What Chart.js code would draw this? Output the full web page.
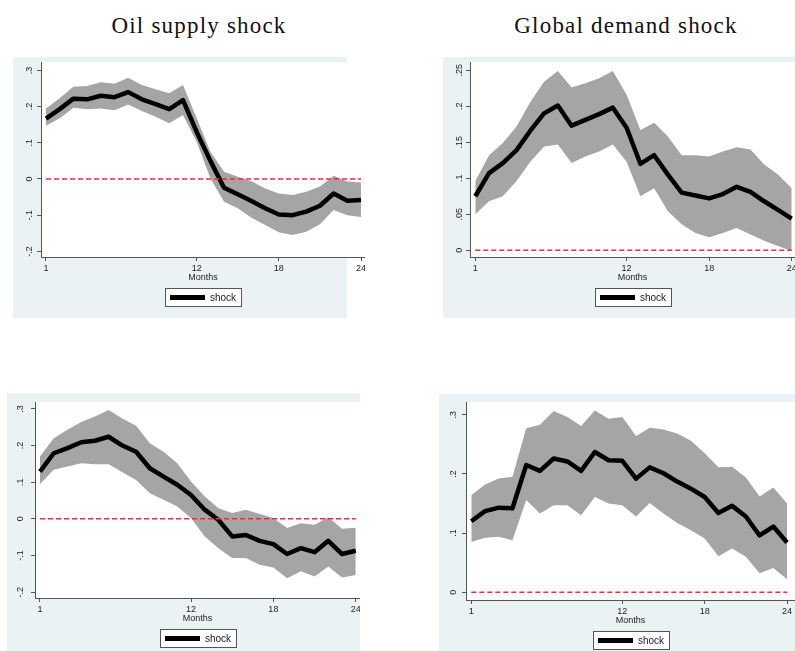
<!DOCTYPE html>
<html>
<head>
<meta charset="utf-8">
<title>Impulse responses</title>
<script src="https://cdn.jsdelivr.net/npm/chart.js"></script>
<style>
  html, body { margin: 0; padding: 0; background: #fff; }
  body { position: relative; width: 795px; height: 651px; overflow: hidden; }
  .title { position: absolute; top: 14px; line-height: 23px; font-family: 'Liberation Serif', serif; font-size: 23px; letter-spacing: 1.2px; color: #111; transform: translateX(-50%); white-space: nowrap; }
  canvas { position: absolute; }
</style>
</head>
<body>
<div class="title" style="left:199px">Oil supply shock</div>
<div class="title" style="left:626px">Global demand shock</div>
<canvas id="oilTop" width="352" height="261" style="left:13px;top:57px"></canvas>
<canvas id="demandTop" width="352" height="261" style="left:443px;top:57px"></canvas>
<canvas id="oilBottom" width="353" height="258" style="left:7px;top:393px"></canvas>
<canvas id="demandBottom" width="356" height="257" style="left:439px;top:394px"></canvas>
<script>
// horizon (months) and axis ticks
const months = [1, 2, 3, 4, 5, 6, 7, 8, 9, 10, 11, 12, 13, 14, 15, 16, 17, 18, 19, 20, 21, 22, 23, 24];
const monthTicks = [1, 12, 18, 24];
const seriesLabel = 'shock';

// top-left: oil supply shock
const oilTopIrf   = [0.167, 0.193, 0.222, 0.220, 0.230, 0.226, 0.240, 0.220, 0.207, 0.193, 0.218, 0.130, 0.050, -0.024, -0.042, -0.061, -0.081, -0.098, -0.100, -0.090, -0.074, -0.040, -0.060, -0.058];
const oilTopUpper = [0.195, 0.223, 0.255, 0.257, 0.267, 0.263, 0.280, 0.260, 0.248, 0.237, 0.260, 0.168, 0.075, 0.020, 0.006, -0.006, -0.026, -0.040, -0.044, -0.035, -0.021, 0.009, -0.007, -0.010];
const oilTopLower = [0.147, 0.168, 0.197, 0.193, 0.195, 0.190, 0.206, 0.188, 0.172, 0.154, 0.177, 0.103, 0.002, -0.063, -0.081, -0.107, -0.127, -0.147, -0.155, -0.146, -0.125, -0.086, -0.100, -0.105];
const oilTopTicks = [-0.2, -0.1, 0, 0.1, 0.2, 0.3];

// top-right: global demand shock
const demandTopIrf   = [0.075, 0.107, 0.121, 0.139, 0.166, 0.190, 0.201, 0.173, 0.181, 0.189, 0.198, 0.170, 0.120, 0.132, 0.105, 0.080, 0.076, 0.072, 0.078, 0.088, 0.081, 0.068, 0.056, 0.044];
const demandTopUpper = [0.096, 0.132, 0.149, 0.172, 0.206, 0.234, 0.249, 0.226, 0.232, 0.239, 0.249, 0.216, 0.167, 0.177, 0.158, 0.132, 0.132, 0.130, 0.137, 0.143, 0.140, 0.119, 0.105, 0.086];
const demandTopLower = [0.050, 0.068, 0.075, 0.096, 0.123, 0.144, 0.147, 0.121, 0.130, 0.137, 0.147, 0.123, 0.075, 0.086, 0.054, 0.036, 0.024, 0.018, 0.024, 0.031, 0.022, 0.013, 0.006, -0.001];
const demandTopTicks = [0, 0.05, 0.1, 0.15, 0.2, 0.25];

// bottom-left
const oilBottomIrf   = [0.129, 0.179, 0.193, 0.209, 0.213, 0.224, 0.200, 0.183, 0.138, 0.115, 0.093, 0.065, 0.025, -0.003, -0.048, -0.044, -0.060, -0.069, -0.096, -0.080, -0.091, -0.060, -0.096, -0.087];
const oilBottomUpper = [0.170, 0.220, 0.243, 0.264, 0.279, 0.297, 0.274, 0.254, 0.206, 0.183, 0.152, 0.102, 0.061, 0.029, 0.016, 0.025, 0.013, 0.002, -0.025, -0.012, -0.016, 0.004, -0.027, -0.024];
const oilBottomLower = [0.095, 0.134, 0.143, 0.152, 0.149, 0.149, 0.127, 0.106, 0.070, 0.052, 0.034, 0.002, -0.048, -0.080, -0.107, -0.107, -0.125, -0.133, -0.162, -0.143, -0.157, -0.130, -0.160, -0.153];
const oilBottomTicks = [-0.2, -0.1, 0, 0.1, 0.2, 0.3];

// bottom-right
const demandBottomIrf   = [0.120, 0.137, 0.143, 0.142, 0.215, 0.205, 0.226, 0.221, 0.205, 0.237, 0.223, 0.222, 0.192, 0.211, 0.201, 0.187, 0.175, 0.161, 0.134, 0.146, 0.128, 0.096, 0.111, 0.084];
const demandBottomUpper = [0.164, 0.182, 0.192, 0.195, 0.277, 0.283, 0.306, 0.296, 0.281, 0.307, 0.293, 0.296, 0.264, 0.278, 0.275, 0.268, 0.256, 0.235, 0.211, 0.212, 0.194, 0.162, 0.177, 0.150];
const demandBottomLower = [0.085, 0.092, 0.094, 0.088, 0.156, 0.133, 0.147, 0.147, 0.130, 0.161, 0.150, 0.147, 0.128, 0.151, 0.133, 0.117, 0.105, 0.091, 0.061, 0.074, 0.060, 0.032, 0.041, 0.022];
const demandBottomTicks = [0, 0.1, 0.2, 0.3];

const panelBg = '#eaf2f3';
const bandGrey = '#a5a5a5';
const axisColor = '#555';
const tickFont = { family: 'Liberation Sans', size: 9 };

// Stata style numbers: .3  -.1  0  .05
const stataNumber = v => Math.abs(v) < 1e-9 ? '0' : String(+v.toFixed(2)).replace('0.', '.');
const points = vals => vals.map((v, i) => ({ x: months[i], y: v }));

const panelPlugin = {
  id: 'panel',
  beforeDraw(chart, args, opts) {
    const { ctx, chartArea: a } = chart;
    ctx.save();
    ctx.fillStyle = panelBg;
    ctx.fillRect(0, 0, opts.bgWidth || chart.width, chart.height);
    ctx.fillStyle = '#fff';
    ctx.fillRect(a.left, a.top, a.right - a.left, a.bottom - a.top);
    ctx.restore();
  },
  afterDatasetsDraw(chart) {
    // dashed zero reference line
    const { ctx, scales: { x, y } } = chart;
    const y0 = y.getPixelForValue(0);
    ctx.save();
    ctx.strokeStyle = '#f2284b';
    ctx.lineWidth = 1.5;
    ctx.setLineDash([5, 3]);
    ctx.beginPath();
    ctx.moveTo(x.getPixelForValue(months[0]), y0);
    ctx.lineTo(x.getPixelForValue(months[months.length - 1]), y0);
    ctx.stroke();
    ctx.restore();
  },
  afterDraw(chart) {
    // boxed legend under the axis title
    const { ctx, chartArea: a } = chart;
    const cx = Math.round((a.left + a.right) / 2);
    const top = Math.round(a.bottom) + 31;
    ctx.save();
    ctx.fillStyle = '#fff';
    ctx.fillRect(cx - 38, top, 77, 19);
    ctx.strokeStyle = axisColor;
    ctx.lineWidth = 1;
    ctx.strokeRect(cx - 37.5, top + 0.5, 76, 18);
    ctx.fillStyle = '#000';
    ctx.fillRect(cx - 33, top + 7, 35, 5);
    ctx.font = '10px "Liberation Sans"';
    ctx.textBaseline = 'middle';
    ctx.fillStyle = '#222';
    ctx.fillText(chart.data.datasets[0].label, cx + 7, top + 10);
    ctx.restore();
  }
};

function drawPanel(id, p) {
  new Chart(document.getElementById(id), {
    type: 'line',
    data: {
      datasets: [
        { label: seriesLabel, data: points(p.irf), borderColor: '#000', borderWidth: 4.5, pointRadius: 0, tension: 0, borderJoinStyle: 'round', fill: false },
        { label: 'upper', data: points(p.upper), borderColor: 'rgba(0,0,0,0)', borderWidth: 0, pointRadius: 0, fill: false },
        { label: 'lower', data: points(p.lower), borderColor: 'rgba(0,0,0,0)', borderWidth: 0, pointRadius: 0, fill: '-1', backgroundColor: bandGrey }
      ]
    },
    options: {
      responsive: false,
      animation: false,
      devicePixelRatio: 1,
      layout: { padding: { top: p.padTop, bottom: p.padBottom, left: 0, right: 0 } },
      plugins: { legend: { display: false }, tooltip: { enabled: false }, panel: { bgWidth: p.bgWidth } },
      scales: {
        x: {
          type: 'linear', min: p.xMin, max: p.xMax,
          afterBuildTicks: s => { s.ticks = monthTicks.map(v => ({ value: v })); },
          afterFit: s => { s.height = 26; s.paddingLeft = 0; s.paddingRight = 0; },
          grid: { drawOnChartArea: false, drawTicks: true, tickLength: 4, color: axisColor },
          border: { color: axisColor, width: 1 },
          ticks: { font: tickFont, color: '#222', padding: 2, maxRotation: 0, autoSkip: false, callback: v => String(v) },
          title: { display: true, text: 'Months', font: tickFont, color: '#222', padding: 0 }
        },
        y: {
          min: p.yMin, max: p.yMax,
          afterBuildTicks: s => { s.ticks = p.ticks.map(v => ({ value: v })); },
          afterFit: s => { s.width = p.yAxisWidth; s.paddingTop = 0; s.paddingBottom = 0; },
          grid: { drawOnChartArea: false, drawTicks: true, tickLength: 4, color: axisColor },
          border: { color: axisColor, width: 1 },
          ticks: { font: tickFont, color: '#222', padding: p.yLabelPad, minRotation: 90, maxRotation: 90, crossAlign: 'center', autoSkip: false, callback: stataNumber }
        }
      }
    },
    plugins: [panelPlugin]
  });
}

drawPanel('oilTop', { irf: oilTopIrf, upper: oilTopUpper, lower: oilTopLower, ticks: oilTopTicks,
  xMin: 0.635, xMax: 24.29, yMin: -0.2155, yMax: 0.3232, padTop: 5, padBottom: 35, yAxisWidth: 28, yLabelPad: 2, bgWidth: 334 });
drawPanel('demandTop', { irf: demandTopIrf, upper: demandTopUpper, lower: demandTopLower, ticks: demandTopTicks,
  xMin: 0.615, xMax: 24.24, yMin: -0.0094, yMax: 0.2614, padTop: 5, padBottom: 35, yAxisWidth: 27, yLabelPad: 0 });
drawPanel('oilBottom', { irf: oilBottomIrf, upper: oilBottomUpper, lower: oilBottomLower, ticks: oilBottomTicks,
  xMin: 0.636, xMax: 24.31, yMin: -0.216, yMax: 0.3188, padTop: 9, padBottom: 27, yAxisWidth: 28, yLabelPad: 5 });
drawPanel('demandBottom', { irf: demandBottomIrf, upper: demandBottomUpper, lower: demandBottomLower, ticks: demandBottomTicks,
  xMin: 0.614, xMax: 24.58, yMin: -0.013, yMax: 0.3214, padTop: 8, padBottom: 25, yAxisWidth: 27, yLabelPad: 5 });
</script>
</body>
</html>
